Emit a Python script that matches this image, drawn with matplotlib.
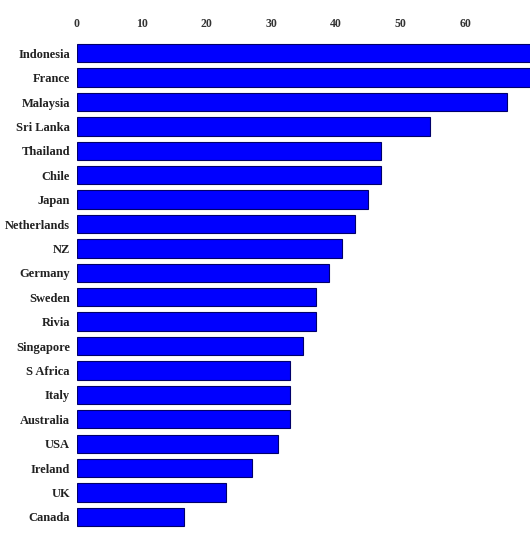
import matplotlib.pyplot as plt

countries = ['Indonesia', 'France', 'Malaysia', 'Sri Lanka', 'Thailand', 'Chile',
             'Japan', 'Netherlands', 'NZ', 'Germany', 'Sweden', 'Rivia',
             'Singapore', 'S Africa', 'Italy', 'Australia', 'USA', 'Ireland',
             'UK', 'Canada']
values = [72, 72, 66.5, 54.5, 47, 47, 45, 43, 41, 39, 37, 37,
          35, 33, 33, 33, 31, 27, 23, 16.5]
ticks = [0, 10, 20, 30, 40, 50, 60]

fig = plt.figure(figsize=(5.3, 5.54), dpi=100)
ax = fig.add_axes([0.145, 0.045, 0.855, 0.881])

y = range(len(countries))
ax.barh(y, values, height=0.75, color='#0000ff', edgecolor='#00006a', linewidth=0.8)
ax.set_ylim(len(countries) - 0.5, -0.5)
ax.set_xlim(0, 70)

ax.set_yticks(list(y))
ax.set_yticklabels(countries, fontfamily='Liberation Serif', fontweight='bold',
                   fontsize=9, color='#222222')
ax.set_xticks(ticks)
ax.set_xticklabels([str(t) for t in ticks], fontfamily='Liberation Serif',
                   fontweight='bold', fontsize=8.5, color='#333333')
ax.xaxis.tick_top()
ax.tick_params(axis='x', length=0, pad=8)
ax.tick_params(axis='y', length=0, pad=5)
for s in ax.spines.values():
    s.set_visible(False)

fig.savefig('out.png', dpi=100, facecolor='white')
